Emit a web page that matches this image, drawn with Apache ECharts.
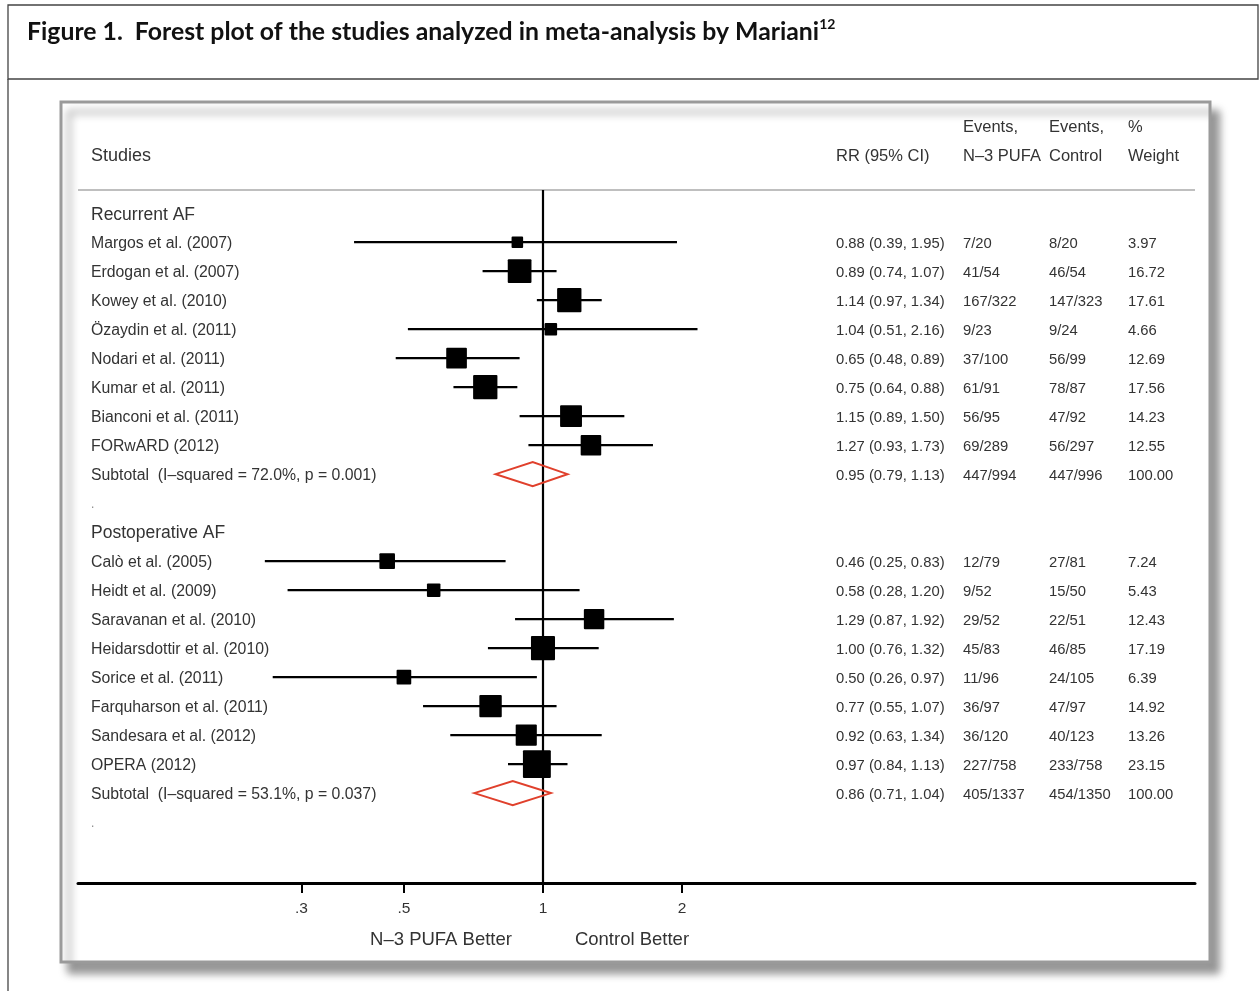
<!DOCTYPE html>
<html><head><meta charset="utf-8">
<script src="https://cdn.jsdelivr.net/npm/echarts@6/dist/echarts.min.js"></script>
<style>html,body{margin:0;padding:0;background:#fff;}#chart{width:1259px;height:991px;}</style>
</head><body><div id="chart"></div>
<script>
// ---------- data ----------
const group1Title = 'Recurrent AF';
const names1 = ['Margos et al. (2007)','Erdogan et al. (2007)','Kowey et al. (2010)','Özaydin et al. (2011)','Nodari et al. (2011)','Kumar et al. (2011)','Bianconi et al. (2011)','FORwARD (2012)'];
const rr1 = [0.88,0.89,1.14,1.04,0.65,0.75,1.15,1.27];
const lo1 = [0.39,0.74,0.97,0.51,0.48,0.64,0.89,0.93];
const hi1 = [1.95,1.07,1.34,2.16,0.89,0.88,1.50,1.73];
const ev1 = ['7/20','41/54','167/322','9/23','37/100','61/91','56/95','69/289'];
const ctl1 = ['8/20','46/54','147/323','9/24','56/99','78/87','47/92','56/297'];
const w1 = [3.97,16.72,17.61,4.66,12.69,17.56,14.23,12.55];
const sub1 = {label:'Subtotal  (I\u2013squared = 72.0%, p = 0.001)', rr:0.95, lo:0.79, hi:1.13, e:'447/994', c:'447/996', w:100.00};

const group2Title = 'Postoperative AF';
const names2 = ['Calò et al. (2005)','Heidt et al. (2009)','Saravanan et al. (2010)','Heidarsdottir et al. (2010)','Sorice et al. (2011)','Farquharson et al. (2011)','Sandesara et al. (2012)','OPERA (2012)'];
const rr2 = [0.46,0.58,1.29,1.00,0.50,0.77,0.92,0.97];
const lo2 = [0.25,0.28,0.87,0.76,0.26,0.55,0.63,0.84];
const hi2 = [0.83,1.20,1.92,1.32,0.97,1.07,1.34,1.13];
const ev2 = ['12/79','9/52','29/52','45/83','11/96','36/97','36/120','227/758'];
const ctl2 = ['27/81','15/50','22/51','46/85','24/105','47/97','40/123','233/758'];
const w2 = [7.24,5.43,12.43,17.19,6.39,14.92,13.26,23.15];
const sub2 = {label:'Subtotal  (I\u2013squared = 53.1%, p = 0.037)', rr:0.86, lo:0.71, hi:1.04, e:'405/1337', c:'454/1350', w:100.00};

const tickValues = [0.3,0.5,1,2];
const tickLabels = ['.3','.5','1','2'];
const headerTop = ['Events,','Events,','%'];
const headerBottom = ['RR (95% CI)','N\u20133 PUFA','Control','Weight'];
const studiesHeader = 'Studies';
const leftNote = 'N\u20133 PUFA Better';
const rightNote = 'Control Better';
const titleText = 'Figure 1.  Forest plot of the studies analyzed in meta-analysis by Mariani';
const titleSup = '12';

// ---------- build rows ----------
const rows = [];
function addGroup(title, names, rr, lo, hi, ev, ctl, w, sub, start) {
  let y = start;
  rows.push({y: y++, kind:'group', label:title});
  names.forEach((n,i) => rows.push({y: y++, kind:'study', label:n, rr:rr[i], lo:lo[i], hi:hi[i], e:ev[i], c:ctl[i], w:w[i]}));
  rows.push(Object.assign({y: y++, kind:'subtotal'}, sub));
  rows.push({y: y++, kind:'dot', label:'.'});
  return y;
}
let next = addGroup(group1Title, names1, rr1, lo1, hi1, ev1, ctl1, w1, sub1, 0);
addGroup(group2Title, names2, rr2, lo2, hi2, ev2, ctl2, w2, sub2, next);

const studyRows = rows.filter(r => r.kind === 'study');
const subRows = rows.filter(r => r.kind === 'subtotal');

const FONT = '"Liberation Sans", Arial, sans-serif';
const TXT = '#333';
const colX = {name: 91, rr: 836, e: 963, c: 1049, w: 1128};
const TEXT_DY = 1.5;

const chart = echarts.init(document.getElementById('chart'), null, {renderer:'canvas'});

const option = {
  animation: false,
  backgroundColor: '#fff',
  grid: {left: 78, right: 64, top: 190, bottom: 108, outerBoundsMode: 'none', containLabel: false},
  xAxis: {
    type: 'log', logBase: 10, min: 0.09852, max: 25.78, position: 'bottom',
    axisLine: {show: true, onZero: false, lineStyle: {color: '#000', width: 3}},
    axisTick: {show: true, customValues: tickValues, length: 10, lineStyle: {color: '#000', width: 2}},
    axisLabel: {show: true, customValues: tickValues, margin: 18, fontFamily: FONT, fontSize: 15.5, color: TXT,
      formatter: v => { const i = tickValues.findIndex(t => Math.abs(t - v) < 1e-9); return i >= 0 ? tickLabels[i] : ''; }},
    splitLine: {show: false}
  },
  yAxis: {type: 'value', inverse: true, min: -0.8, max: 23.1, show: false, splitLine: {show: false}},
  graphic: [
    {type: 'rect', z: -10, silent: true, shape: {x: 8, y: 5, width: 1250, height: 74}, style: {fill: 'none', stroke: '#444', lineWidth: 1.3}},
    {type: 'line', z: -10, silent: true, shape: {x1: 8, y1: 79, x2: 8, y2: 991}, style: {stroke: '#444', lineWidth: 1.3}},
    {type: 'rect', z: -10, silent: true, shape: {x: 61, y: 102, width: 1149, height: 860},
      style: {fill: '#fff', stroke: '#9a9a9a', lineWidth: 3, shadowBlur: 8, shadowOffsetX: 8, shadowOffsetY: 10, shadowColor: 'rgba(0,0,0,0.4)'}},
    {type: 'line', z: -5, silent: true, shape: {x1: 78, y1: 190, x2: 1195, y2: 190}, style: {stroke: '#aaa', lineWidth: 1.5}},
    {type: 'text', z: 5, left: 27, top: 17, style: {
      text: '{t|' + titleText + '}{s|' + titleSup + '}',
      rich: {t: {fontFamily: 'Lato, sans-serif', fontWeight: 'bold', fontSize: 24.8, fill: '#111', lineHeight: 30},
             s: {fontFamily: 'Lato, sans-serif', fontWeight: 'bold', fontSize: 14, fill: '#111', verticalAlign: 'top', lineHeight: 30}}}},
    {type: 'text', z: 5, style: {text: studiesHeader, x: colX.name, y: 156, fontFamily: FONT, fontSize: 18, fill: TXT, textVerticalAlign: 'middle'}},
    {type: 'text', z: 5, style: {text: headerBottom[0], x: colX.rr, y: 156, fontFamily: FONT, fontSize: 16.5, fill: TXT, textVerticalAlign: 'middle'}},
    {type: 'text', z: 5, style: {text: headerTop[0], x: colX.e, y: 127, fontFamily: FONT, fontSize: 16.5, fill: TXT, textVerticalAlign: 'middle'}},
    {type: 'text', z: 5, style: {text: headerBottom[1], x: colX.e, y: 156, fontFamily: FONT, fontSize: 16.5, fill: TXT, textVerticalAlign: 'middle'}},
    {type: 'text', z: 5, style: {text: headerTop[1], x: colX.c, y: 127, fontFamily: FONT, fontSize: 16.5, fill: TXT, textVerticalAlign: 'middle'}},
    {type: 'text', z: 5, style: {text: headerBottom[2], x: colX.c, y: 156, fontFamily: FONT, fontSize: 16.5, fill: TXT, textVerticalAlign: 'middle'}},
    {type: 'text', z: 5, style: {text: headerTop[2], x: colX.w, y: 127, fontFamily: FONT, fontSize: 16.5, fill: TXT, textVerticalAlign: 'middle'}},
    {type: 'text', z: 5, style: {text: headerBottom[3], x: colX.w, y: 156, fontFamily: FONT, fontSize: 16.5, fill: TXT, textVerticalAlign: 'middle'}},
    {type: 'text', z: 5, style: {text: leftNote, x: 441, y: 940, fontFamily: FONT, fontSize: 18.5, fill: TXT, textAlign: 'center', textVerticalAlign: 'middle'}},
    {type: 'text', z: 5, style: {text: rightNote, x: 632, y: 940, fontFamily: FONT, fontSize: 18.5, fill: TXT, textAlign: 'center', textVerticalAlign: 'middle'}}
  ],
  series: [
    {
      // table text columns
      type: 'custom', clip: false, silent: true, z: 3,
      data: rows.map(r => [1, r.y]),
      encode: {x: 0, y: 1},
      renderItem: function (params, api) {
        const r = rows[params.dataIndex];
        const yPix = api.coord([1, r.y])[1] + TEXT_DY;
        const children = [];
        const base = {fontFamily: FONT, fill: TXT, textVerticalAlign: 'middle'};
        if (r.kind === 'group') {
          children.push({type: 'text', style: Object.assign({}, base, {text: r.label, x: colX.name, y: yPix, fontSize: 17.5})});
        } else if (r.kind === 'dot') {
          children.push({type: 'text', style: Object.assign({}, base, {text: r.label, x: colX.name, y: yPix, fontSize: 12, fill: '#888'})});
        } else {
          children.push({type: 'text', style: Object.assign({}, base, {text: r.label, x: colX.name, y: yPix, fontSize: 15.8})});
          children.push({type: 'text', style: Object.assign({}, base, {text: r.rr.toFixed(2) + ' (' + r.lo.toFixed(2) + ', ' + r.hi.toFixed(2) + ')', x: colX.rr, y: yPix, fontSize: 14.8})});
          children.push({type: 'text', style: Object.assign({}, base, {text: r.e, x: colX.e, y: yPix, fontSize: 14.8})});
          children.push({type: 'text', style: Object.assign({}, base, {text: r.c, x: colX.c, y: yPix, fontSize: 14.8})});
          children.push({type: 'text', style: Object.assign({}, base, {text: r.w.toFixed(2), x: colX.w, y: yPix, fontSize: 14.8})});
        }
        return {type: 'group', children: children};
      }
    },
    {
      // study estimates: CI line + weighted square
      type: 'custom', clip: false, silent: true, z: 4,
      data: studyRows.map(r => [r.rr, r.y, r.lo, r.hi, r.w]),
      encode: {x: 0, y: 1},
      renderItem: function (params, api) {
        const y = api.value(1);
        const p = api.coord([api.value(0), y]);
        const l = api.coord([api.value(2), y]);
        const h = api.coord([api.value(3), y]);
        const s = 5.8 * Math.sqrt(api.value(4));
        return {type: 'group', children: [
          {type: 'line', shape: {x1: l[0], y1: p[1], x2: h[0], y2: p[1]}, style: {stroke: '#000', lineWidth: 2.2}},
          {type: 'rect', shape: {x: p[0] - s / 2, y: p[1] - s / 2, width: s, height: s, r: 1}, style: {fill: '#000'}}
        ]};
      },
      markLine: {
        silent: true, symbol: ['none', 'none'], label: {show: false},
        lineStyle: {color: '#000', width: 2.2, type: 'solid'},
        data: [{xAxis: 1}]
      }
    },
    {
      // subtotal diamonds
      type: 'custom', clip: false, silent: true, z: 5,
      data: subRows.map(r => [r.rr, r.y, r.lo, r.hi]),
      encode: {x: 0, y: 1},
      renderItem: function (params, api) {
        const y = api.value(1);
        const p = api.coord([api.value(0), y]);
        const l = api.coord([api.value(2), y]);
        const h = api.coord([api.value(3), y]);
        const hh = 12;
        return {type: 'polygon', shape: {points: [[l[0], p[1]], [p[0], p[1] - hh], [h[0], p[1]], [p[0], p[1] + hh]]},
          style: {fill: 'none', stroke: '#e0402c', lineWidth: 2}};
      }
    }
  ]
};
chart.setOption(option);
</script>
</body></html>
